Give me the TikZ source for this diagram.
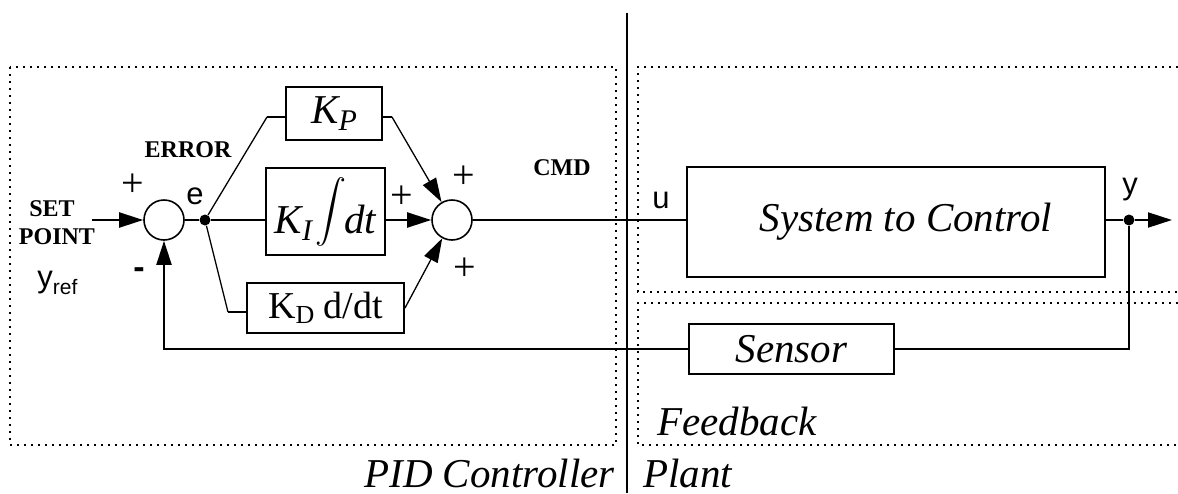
\documentclass[tikz,border=0pt]{standalone}
\usepackage{fontspec}
\setmainfont{Liberation Serif}
\setsansfont{Liberation Sans}
\usetikzlibrary{arrows.meta}

\newcommand{\lowsub}[3]{\raisebox{-#1}{\fontsize{#2}{#2}\selectfont #3}}

\begin{document}
\begin{tikzpicture}[x=0.5pt, y=-0.5pt,
  blk/.style={draw, line width=1pt, inner sep=0pt, font=\fontsize{20.5}{20.5}\selectfont\itshape},
  sum/.style={circle, draw, line width=0.8pt, minimum size=20pt, inner sep=0pt},
  dot/.style={circle, fill, minimum size=5.5pt, inner sep=0pt},
  sig/.style={line width=1pt},
  thin sig/.style={line width=0.65pt},
  arr/.style={-{Triangle[length=12pt,width=7.5pt]}},
  frame/.style={line width=1pt, dash pattern=on 1pt off 2.5pt},
  tag/.style={font=\fontsize{12}{12}\selectfont\bfseries, inner sep=0pt},
  var/.style={font=\fontsize{15.5}{15.5}\selectfont\sffamily, inner sep=0pt},
  sgn/.style={font=\fontsize{20}{20}\selectfont, inner sep=0pt},
  ital/.style={font=\fontsize{20.5}{20.5}\selectfont\itshape, inner sep=0pt}]
  \useasboundingbox (0,0) rectangle (1178,493);

  \draw[frame] (10,67) rectangle (616,445);
  \draw[frame] (1178,67) -- (638,67) -- (638,292) -- (1178,292);
  \draw[frame] (1178,303) -- (638,303) -- (638,445) -- (1178,445);
  \draw[line width=1pt] (627,13) -- (627,493);

  \node[sum] (sum1) at (164,220) {};
  \node[sum] (sum2) at (452,220) {};
  \node[dot] (je) at (205,220) {};
  \node[dot] (yd) at (1129,220) {};
  \node[blk, minimum width=48pt, minimum height=26.5pt] (KP) at (334,113.5) {K\lowsub{3.5pt}{15}{P}};
  \node[blk, minimum width=59.5pt, minimum height=43.5pt] (KI) at (325.5,211.5) {K\lowsub{3.5pt}{15}{I}\kern1.5pt\raisebox{3pt}{\scalebox{1.55}{$\displaystyle\int$}}\kern-1pt dt};
  \node[blk, minimum width=78.5pt, minimum height=25pt, font=\fontsize{19}{19}\selectfont] (KD) at (325.5,308) {K\lowsub{2.5pt}{13}{D} d/dt};
  \node[blk, minimum width=209pt, minimum height=55pt] (sys) at (896,222) {\hspace{10pt}System to Control};
  \node[blk, minimum width=102.5pt, minimum height=25pt] (sensor) at (791.5,349) {Sensor\hspace{8pt}};

  \coordinate (sp) at (92,220);
  \coordinate (kpin) at (267,117);
  \coordinate (kpout) at (392,117);
  \coordinate (kdin) at (228,312);
  \coordinate (yend) at (1172,220);

  \draw[sig, arr] (sp) -- (sum1);
  \draw[sig] (sum1) -- (je);
  \draw[thin sig] (je) -- (kpin);
  \draw[sig] (kpin) -- (kpin -| KP.west);
  \draw[sig] (je) -- (je -| KI.west);
  \draw[thin sig] (je) -- (kdin);
  \draw[sig] (kdin) -- (kdin -| KD.west);
  \draw[sig] (KP.east |- kpout) -- (kpout);
  \draw[thin sig, arr] (kpout) -- (sum2);
  \draw[sig, arr] (KI.east |- sum2) -- (sum2);
  \draw[thin sig, arr] (KD.east) -- (sum2);
  \draw[sig] (sum2) -- (sys.west |- sum2);
  \draw[sig] (sys.east |- yd) -- (yd);
  \draw[sig, arr] (yd) -- (yend);
  \draw[sig] (yd) |- (sensor.east);
  \draw[sig, arr] (sensor.west) -| (sum1.south);

  \node[tag] (set) at (52,209) {SET};
  \node[tag] (point) at (57,237) {POINT};
  \node[tag] (error) at (188,150) {ERROR};
  \node[tag] (cmd) at (562,168) {CMD};
  \node[var, anchor=base west] (yref) at (37,287) {y\lowsub{3.5pt}{10.5}{ref}};
  \node[var, anchor=base] (elab) at (195,204) {e};
  \node[var, anchor=base] (ulab) at (661,208) {u};
  \node[var, anchor=base] (ylab) at (1130,194) {y};
  \node[sgn] (p1) at (133,185) {+};
  \node[var, font=\fontsize{17}{17}\selectfont\sffamily\bfseries] (m1) at (139,273) {-};
  \node[sgn] (p2) at (402,197) {+};
  \node[sgn] (p3) at (464,177) {+};
  \node[sgn] (p4) at (465,269) {+};

  \node[ital, anchor=base east] (pid) at (615,487) {PID Controller};
  \node[ital, anchor=base west] (plant) at (643,487) {Plant};
  \node[ital, anchor=base west] (fb) at (657,435) {Feedback};
\end{tikzpicture}
\end{document}
